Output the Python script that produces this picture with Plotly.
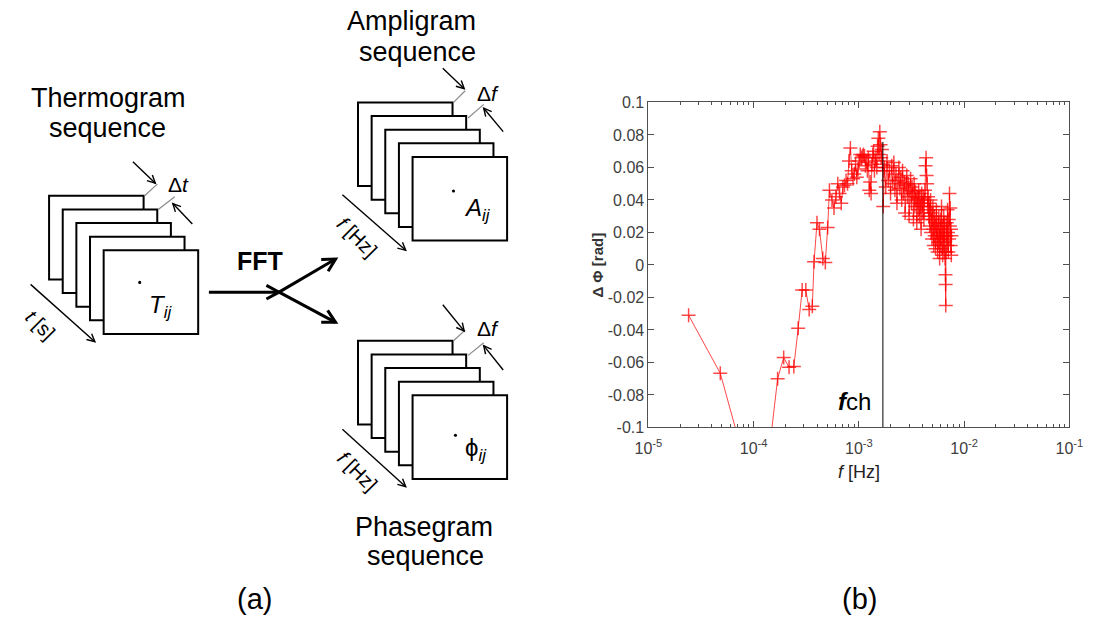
import math
import plotly.graph_objects as go

# ---------------- data ----------------
freq_mhz = [
    0.0241, 0.0482, 0.0723, 0.0964, 0.1205, 0.1446, 0.169, 0.193, 0.217, 0.241,
    0.265, 0.289, 0.313, 0.337, 0.361, 0.375, 0.400, 0.422, 0.454, 0.480,
    0.505, 0.525, 0.555, 0.580, 0.605, 0.630, 0.655, 0.680, 0.705, 0.730,
    0.755, 0.780, 0.805, 0.830, 0.855, 0.880, 0.905, 0.930, 0.955, 0.980,
    1.005, 1.030, 1.055, 1.080, 1.105, 1.130, 1.155, 1.180, 1.205, 1.230,
    1.255, 1.280, 1.305, 1.330, 1.355, 1.380, 1.405, 1.430, 1.455, 1.480,
    1.505, 1.530, 1.555, 1.580, 1.605, 1.630, 1.655, 1.680, 1.705, 1.730,
    1.75, 1.80, 1.85, 1.90, 1.95, 2.00, 2.05, 2.10, 2.15, 2.20,
    2.25, 2.30, 2.35, 2.40, 2.45, 2.50, 2.55, 2.60, 2.65, 2.70,
    2.75, 2.80, 2.85, 2.90, 2.95, 3.00, 3.05, 3.10, 3.15, 3.20,
    3.25, 3.30, 3.35, 3.40, 3.45, 3.50, 3.55, 3.60, 3.65, 3.70,
    3.75, 3.80, 3.85, 3.90, 3.95, 4.00, 4.05, 4.10, 4.15, 4.20,
    4.25, 4.30, 4.35, 4.40, 4.45, 4.50, 4.55, 4.60, 4.65, 4.70,
    4.75, 4.80, 4.85, 4.90, 4.95, 5.00, 5.05, 5.10, 5.15, 5.20,
    5.25, 5.30, 5.35, 5.40, 5.45, 5.50, 5.55, 5.60, 5.65, 5.70,
    5.75, 5.80, 5.85, 5.90, 5.95, 6.00, 6.05, 6.10, 6.15, 6.20,
    6.25, 6.30, 6.35, 6.40, 6.45, 6.50, 6.55, 6.60, 6.65, 6.67,
    6.69, 6.72, 6.78, 6.84, 6.90, 6.96, 7.02, 7.08, 7.14, 7.20,
    7.26, 7.32, 7.38, 7.44, 7.50, 7.55, 7.58,
]
dphi_rad = [
    -0.031, -0.0667, -0.108, -0.130, -0.125, -0.108, -0.070, -0.057, -0.063, -0.0625,
    -0.039, -0.0155, -0.0155, -0.0275, -0.0255, 0.002, 0.026, 0.022, 0.004, 0.0015,
    0.023, 0.046, 0.040, 0.035, 0.042, 0.050, 0.044, 0.038, 0.048, 0.049,
    0.052, 0.050, 0.064, 0.072, 0.058, 0.053, 0.056, 0.062, 0.054, 0.059,
    0.064, 0.068, 0.066, 0.067, 0.068, 0.067, 0.061, 0.063, 0.058, 0.066,
    0.046, 0.051, 0.044, 0.062, 0.068, 0.070, 0.058, 0.064, 0.066, 0.060,
    0.073, 0.078, 0.068, 0.082, 0.074, 0.066, 0.071, 0.062, 0.036, 0.058,
    0.060, 0.048, 0.064, 0.052, 0.058, 0.044, 0.061, 0.050, 0.063, 0.046,
    0.056, 0.038, 0.052, 0.060, 0.047, 0.054, 0.040, 0.058, 0.044, 0.051,
    0.032, 0.049, 0.055, 0.042, 0.050, 0.030, 0.046, 0.053, 0.038, 0.048,
    0.044, 0.028, 0.050, 0.036, 0.045, 0.040, 0.026, 0.042, 0.034, 0.046,
    0.030, 0.041, 0.036, 0.022, 0.044, 0.038, 0.032, 0.042, 0.028, 0.040,
    0.046, 0.061, 0.066, 0.055, 0.050, 0.036, 0.042, 0.030, 0.038, 0.024,
    0.034, 0.040, 0.020, 0.032, 0.016, 0.028, 0.036, 0.022, 0.012, 0.030,
    0.018, 0.026, 0.010, 0.024, 0.034, 0.016, 0.022, 0.008, 0.026, 0.014,
    0.030, 0.018, 0.004, 0.022, 0.012, 0.028, 0.016, 0.036, 0.010, 0.024,
    0.006, 0.020, 0.014, 0.030, 0.008, 0.018, 0.026, 0.004, -0.006, -0.012,
    -0.025, 0.008, 0.018, 0.026, 0.012, 0.034, 0.020, 0.008, 0.028, 0.016,
    0.044, 0.024, 0.035, 0.012, 0.022, 0.006, 0.018,
]
f_ch_mhz = 1.69
f_ch_line_top = 0.0757

x_tickvals = [1e-5, 1e-4, 1e-3, 1e-2, 1e-1]
x_ticktext = ["10<sup>-5</sup>", "10<sup>-4</sup>", "10<sup>-3</sup>", "10<sup>-2</sup>", "10<sup>-1</sup>"]
x_minor = [m * d for d in (1e-5, 1e-4, 1e-3, 1e-2) for m in range(2, 10)]
y_tickvals = [0.1, 0.08, 0.06, 0.04, 0.02, 0, -0.02, -0.04, -0.06, -0.08, -0.1]
y_ticktext = ["0.1", "0.08", "0.06", "0.04", "0.02", "0", "-0.02", "-0.04", "-0.06", "-0.08", "-0.1"]

# ---------------- figure ----------------
W, H = 1098, 632
FONT = "Liberation Sans, Arial, sans-serif"
AX = "#505050"
RED = "rgba(255,0,0,0.72)"

fig = go.Figure()
fig.add_trace(go.Scatter(
    x=[f * 1e-3 for f in freq_mhz], y=dphi_rad, mode="lines+markers",
    line=dict(color=RED, width=1),
    marker=dict(symbol="cross-thin", size=10, color=RED, line=dict(color=RED, width=1.5)),
    showlegend=False, hoverinfo="skip"))
fig.add_trace(go.Scatter(
    x=[f_ch_mhz * 1e-3, f_ch_mhz * 1e-3], y=[-0.1, f_ch_line_top], mode="lines",
    line=dict(color="black", width=1), showlegend=False, hoverinfo="skip"))

def px(x):
    return x / W

def py(y):
    return 1 - y / H

shapes = []
annotations = []

def rect_stack(bx, by):
    for k in range(5):
        x0, y0 = bx + 14 * k, by + 14 * k
        shapes.append(dict(type="rect", xref="paper", yref="paper",
                           x0=px(x0), x1=px(x0 + 97), y0=py(y0), y1=py(y0 + 86),
                           fillcolor="white", line=dict(color="black", width=2), layer="above"))

def dot(x, y, r=1.6):
    shapes.append(dict(type="circle", xref="paper", yref="paper",
                       x0=px(x - r), x1=px(x + r), y0=py(y - r), y1=py(y + r),
                       fillcolor="black", line=dict(color="black", width=0), layer="above"))

def gline(x0, y0, x1, y1, color="#8a8a8a", width=1.2):
    shapes.append(dict(type="line", xref="paper", yref="paper",
                       x0=px(x0), y0=py(y0), x1=px(x1), y1=py(y1),
                       line=dict(color=color, width=width), layer="above"))

def arrow(tail, head, width=1.4, hl=8, hw=4):
    # shaft
    gline(tail[0], tail[1], head[0], head[1], color="black", width=width)
    # open chevron head
    dx, dy = head[0] - tail[0], head[1] - tail[1]
    n = math.hypot(dx, dy)
    ux, uy = dx / n, dy / n
    nx, ny = -uy, ux
    ax_, ay_ = head[0] - hl * ux + hw * nx, head[1] - hl * uy + hw * ny
    bx_, by_ = head[0] - hl * ux - hw * nx, head[1] - hl * uy - hw * ny
    path = "M{},{} L{},{} L{},{}".format(px(ax_), py(ay_), px(head[0]), py(head[1]), px(bx_), py(by_))
    shapes.append(dict(type="path", xref="paper", yref="paper", path=path,
                       line=dict(color="black", width=width), layer="above"))

def text(t, x, y, size, xanchor="center", yanchor="middle", angle=0, color="black"):
    annotations.append(dict(x=px(x), y=py(y), xref="paper", yref="paper", text=t,
                            showarrow=False, xanchor=xanchor, yanchor=yanchor,
                            textangle=angle, font=dict(family=FONT, size=size, color=color)))

# --- Thermogram stack ---
text("Thermogram", 97, 93, 27)
text("sequence", 96, 123, 27)
rect_stack(36, 193)
dot(129, 282)
text("<i>T<sub>ij</sub></i>", 136, 307, 24, xanchor="left")
gline(134, 193, 147, 181)
gline(148, 207, 165, 194)
arrow((122, 158), (145, 180))
arrow((183, 222), (163, 201))
text("Δ<i>t</i>", 169, 181, 21)
arrow((17, 284), (83, 343))
text("<i>t</i> [s]", 27, 326, 20, angle=45)

# --- FFT ---
text("<b>FFT</b>", 252, 260, 25)
arrow((200, 292), (272, 292), width=3, hl=13, hw=7)
arrow((272, 292), (330, 258), width=3, hl=13, hw=7)
arrow((272, 292), (330, 323), width=3, hl=13, hw=7)

# --- Ampligram stack ---
text("Ampligram", 408, 13, 27)
text("sequence", 414, 45, 27)
rect_stack(353, 97)
dot(451, 188)
text("<i>A<sub>ij</sub></i>", 460, 207, 24, xanchor="left")
gline(451, 97, 463, 85)
gline(466, 113, 482, 99)
arrow((440, 62), (462, 83))
arrow((502, 127), (482, 103))
text("Δ<i>f</i>", 486, 88, 21)
arrow((337, 192), (402, 249))
text("<i>f</i> [Hz]", 352, 235, 20, angle=45)

# --- Phasegram stack ---
rect_stack(353, 342)
dot(453, 439)
text("ϕ<i><sub>ij</sub></i>", 461, 454, 24, xanchor="left")
gline(451, 342, 463, 331)
gline(466, 357, 482, 344)
arrow((440, 305), (462, 332))
arrow((502, 372), (482, 347))
text("Δ<i>f</i>", 486, 329, 21)
arrow((337, 433), (402, 492))
text("<i>f</i> [Hz]", 352, 476, 20, angle=45)
text("Phasegram", 421, 533, 27)
text("sequence", 422, 563, 27)

# --- panel labels ---
text("(a)", 247, 607, 29)
text("(b)", 868, 607, 29)

# --- chart texts ---
text("<b><i>f</i></b>ch", 881, 404, 24, xanchor="right")
text("<i>f</i> [Hz]", 867, 477, 18, color="#222222")
text("<b>Δ Φ [rad]</b>", 599, 264, 15, angle=-90, color="#333333")

fig.update_layout(
    width=W, height=H, margin=dict(l=0, r=0, t=0, b=0),
    paper_bgcolor="white", plot_bgcolor="white",
    shapes=shapes, annotations=annotations, showlegend=False,
    xaxis=dict(type="log", range=[-5, -1], domain=[651 / W, 1083 / W],
               showline=True, linecolor=AX, linewidth=1, mirror="ticks",
               ticks="inside", ticklen=6, tickcolor=AX, tickwidth=1,
               tickvals=x_tickvals, ticktext=x_ticktext, ticklabelstandoff=6,
               tickfont=dict(family=FONT, size=16, color="#404040"),
               minor=dict(ticks="inside", ticklen=3, tickcolor=AX, tickmode="array",
                          tickvals=x_minor, showgrid=False),
               showgrid=False, zeroline=False, fixedrange=True),
    yaxis=dict(range=[-0.1, 0.1], domain=[1 - 431 / H, 1 - 97 / H],
               showline=True, linecolor=AX, linewidth=1, mirror="ticks",
               ticks="inside", ticklen=6, tickcolor=AX, tickwidth=1,
               tickvals=y_tickvals, ticktext=y_ticktext,
               tickfont=dict(family=FONT, size=16, color="#404040"),
               showgrid=False, zeroline=False, fixedrange=True),
)

fig.write_html("out.html")
